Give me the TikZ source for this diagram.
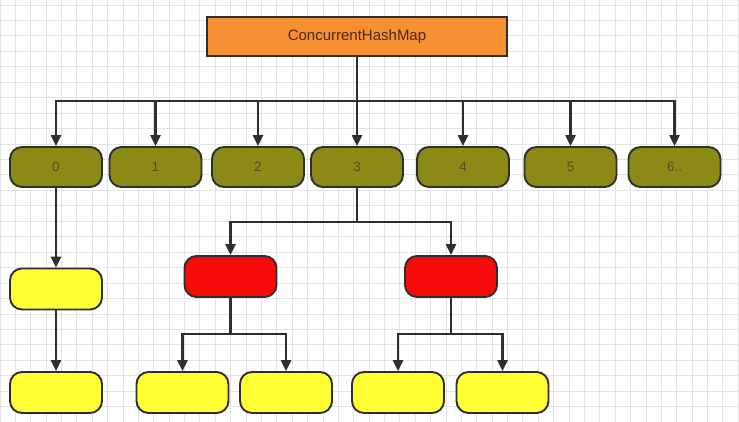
\documentclass[tikz,border=0pt]{standalone}
\usepackage{fontspec}
\setmainfont{Liberation Sans}
\usetikzlibrary{arrows.meta}
\definecolor{gridc}{HTML}{E3E3E3}
\definecolor{orangec}{HTML}{F78F33}
\definecolor{olivec}{HTML}{8C8A16}
\definecolor{yellowc}{HTML}{FFFF33}
\definecolor{redc}{HTML}{F70A0A}
\definecolor{edgec}{HTML}{2E2E2E}
\definecolor{toptext}{HTML}{4A2A10}
\definecolor{olivetext}{HTML}{4F4E1C}
\begin{document}
\begin{tikzpicture}[x=1pt,y=-1pt,
  boxbase/.style={draw=edgec, line width=1.9pt, rounded corners=12pt, minimum width=92pt, minimum height=40pt, inner sep=0pt},
  topbox/.style={draw=edgec, line width=1.9pt, fill=orangec, minimum width=300pt, minimum height=39pt, inner sep=0pt, text=toptext, font=\fontsize{15}{17}\selectfont},
  olivebox/.style={boxbase, fill=olivec, text=olivetext, font=\fontsize{13.5}{15}\selectfont},
  yellowbox/.style={boxbase, fill=yellowc, minimum height=41pt},
  redbox/.style={boxbase, fill=redc, minimum height=41pt},
  arr/.style={draw=edgec, line width=2.3pt, -{Triangle[length=11pt,width=10pt]}},
  ln/.style={draw=edgec, line width=2.3pt}]
\useasboundingbox (0,0) rectangle (739,422);
\fill[white] (0,0) rectangle (739,422);
\foreach \i in {0,...,48} {\draw[gridc, line width=0.9pt] (\i*15.38,0) -- (\i*15.38,422);}
\foreach \j in {0,...,27} {\draw[gridc, line width=0.9pt] (0,5+\j*15.45) -- (739,5+\j*15.45);}

\node[topbox] (top) at (357,36.5) {ConcurrentHashMap};
\coordinate (bus) at (0,101);

\node[olivebox] (o0) at (56,167) {0};
\node[olivebox] (o1) at (155.5,167) {1};
\node[olivebox] (o2) at (258,167) {2};
\node[olivebox] (o3) at (357,167) {3};
\node[olivebox] (o4) at (463,167) {4};
\node[olivebox] (o5) at (570.5,167) {5};
\node[olivebox] (o6) at (674.5,167) {6..};

\foreach \n in {o0,o1,o2,o3,o4,o5,o6} {
  \draw[arr] (top.south) -- (top.south |- bus) -| (\n.north);
}

\node[yellowbox] (y0) at (56,289) {};
\node[yellowbox] (y1) at (56,392.5) {};
\draw[arr] (o0.south) -- (y0.north);
\draw[arr] (y0.south) -- (y1.north);

\coordinate (bus3) at (0,222);
\node[redbox] (r1) at (230.5,276.5) {};
\node[redbox] (r2) at (451,276.5) {};
\draw[arr] (o3.south) -- (o3.south |- bus3) -| (r1.north);
\draw[arr] (o3.south) -- (o3.south |- bus3) -| (r2.north);

\coordinate (bus4) at (0,334);
\node[yellowbox] (y2) at (182.5,392.5) {};
\node[yellowbox] (y3) at (286,392.5) {};
\node[yellowbox] (y4) at (398,392.5) {};
\node[yellowbox] (y5) at (502.5,392.5) {};
\draw[arr] (r1.south) -- (r1.south |- bus4) -| (y2.north);
\draw[arr] (r1.south) -- (r1.south |- bus4) -| (y3.north);
\draw[arr] (r2.south) -- (r2.south |- bus4) -| (y4.north);
\draw[arr] (r2.south) -- (r2.south |- bus4) -| (y5.north);
\end{tikzpicture}
\end{document}
